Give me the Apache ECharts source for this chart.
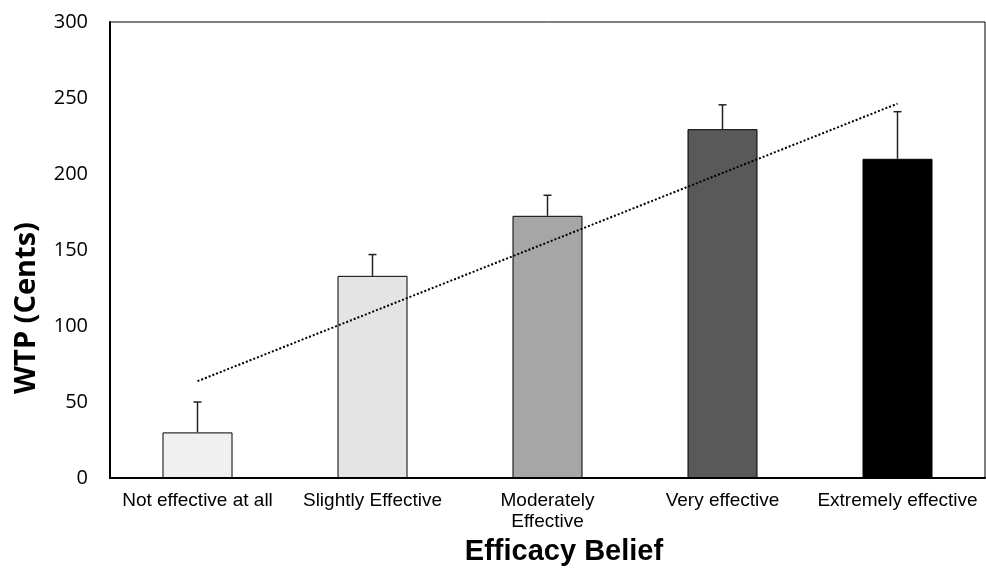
<!DOCTYPE html>
<html>
<head>
<meta charset="utf-8">
<title>WTP by Efficacy Belief</title>
<script src="https://cdn.jsdelivr.net/npm/echarts@6/dist/echarts.min.js"></script>
<style>
  html, body { margin: 0; padding: 0; background: #fff; }
  #chart { width: 986px; height: 570px; }
</style>
</head>
<body>
<div id="chart"></div>
<script>
// Efficacy belief categories and mean willingness-to-pay (cents)
const categories = ['Not effective at all', 'Slightly Effective', 'Moderately\nEffective', 'Very effective', 'Extremely effective'];
const wtpMeans = [30, 133, 172.5, 229.5, 210];
const wtpErrors = [20, 14, 13.5, 16, 31];
const barColors = ['#f0f0f0', '#e4e4e4', '#a6a6a6', '#595959', '#000000'];
const yTicks = { min: 0, max: 300, interval: 50 };

// Least-squares linear trend over category positions 1..n
function linearTrend(values) {
  const n = values.length;
  const xs = values.map((_, i) => i + 1);
  const mx = xs.reduce((a, b) => a + b, 0) / n;
  const my = values.reduce((a, b) => a + b, 0) / n;
  let num = 0, den = 0;
  xs.forEach((x, i) => { num += (x - mx) * (values[i] - my); den += (x - mx) * (x - mx); });
  const slope = num / den;
  return xs.map(x => my + slope * (x - mx));
}
const trendValues = linearTrend(wtpMeans);

const chart = echarts.init(document.getElementById('chart'), null, { renderer: 'canvas' });

chart.setOption({
  animation: false,
  backgroundColor: '#ffffff',
  grid: {
    left: 110, right: 1, top: 22, bottom: 92,
    show: true, borderColor: '#000', borderWidth: 1, backgroundColor: 'transparent'
  },
  xAxis: {
    type: 'category',
    data: categories,
    axisTick: { show: false },
    axisLine: { lineStyle: { color: '#000', width: 2 } },
    axisLabel: {
      color: '#000', fontFamily: 'Liberation Sans', fontSize: 19,
      margin: 12, lineHeight: 21, interval: 0
    }
  },
  yAxis: {
    type: 'value',
    min: yTicks.min, max: yTicks.max, interval: yTicks.interval,
    splitLine: { show: false },
    axisTick: { show: false },
    axisLine: { show: true, lineStyle: { color: '#000', width: 2 } },
    axisLabel: { color: '#000', fontFamily: 'Open Sans', fontSize: 20, margin: 22 }
  },
  series: [
    {
      type: 'bar',
      barWidth: 70,
      data: wtpMeans.map((v, i) => ({
        value: v,
        itemStyle: { color: barColors[i], borderColor: '#000', borderWidth: 1 }
      })),
      z: 2
    },
    {
      // upper error bars
      type: 'custom',
      data: wtpMeans.map((v, i) => [i, v, v + wtpErrors[i]]),
      renderItem: function (params, api) {
        const base = api.coord([api.value(0), api.value(1)]);
        const top = api.coord([api.value(0), api.value(2)]);
        const half = 4;
        return {
          type: 'group',
          children: [
            { type: 'line', shape: { x1: base[0], y1: base[1], x2: top[0], y2: top[1] },
              style: { stroke: '#222', lineWidth: 1.5 } },
            { type: 'line', shape: { x1: top[0] - half, y1: top[1], x2: top[0] + half, y2: top[1] },
              style: { stroke: '#222', lineWidth: 1.5 } }
          ]
        };
      },
      z: 3
    },
    {
      // linear trendline
      type: 'line',
      data: trendValues,
      symbol: 'none',
      lineStyle: { color: '#000', width: 2, type: [2, 2] },
      z: 4
    }
  ],
  graphic: [
    {
      type: 'text',
      x: 27, y: 308, rotation: Math.PI / 2,
      style: {
        text: 'WTP (Cents)', fill: '#000',
        font: 'bold 29px "Open Sans"', align: 'center', verticalAlign: 'middle'
      }
    },
    {
      type: 'text',
      x: 564, y: 552,
      style: {
        text: 'Efficacy Belief', fill: '#000',
        font: 'bold 29px "Liberation Sans"', align: 'center', verticalAlign: 'middle'
      }
    }
  ]
});
</script>
</body>
</html>
